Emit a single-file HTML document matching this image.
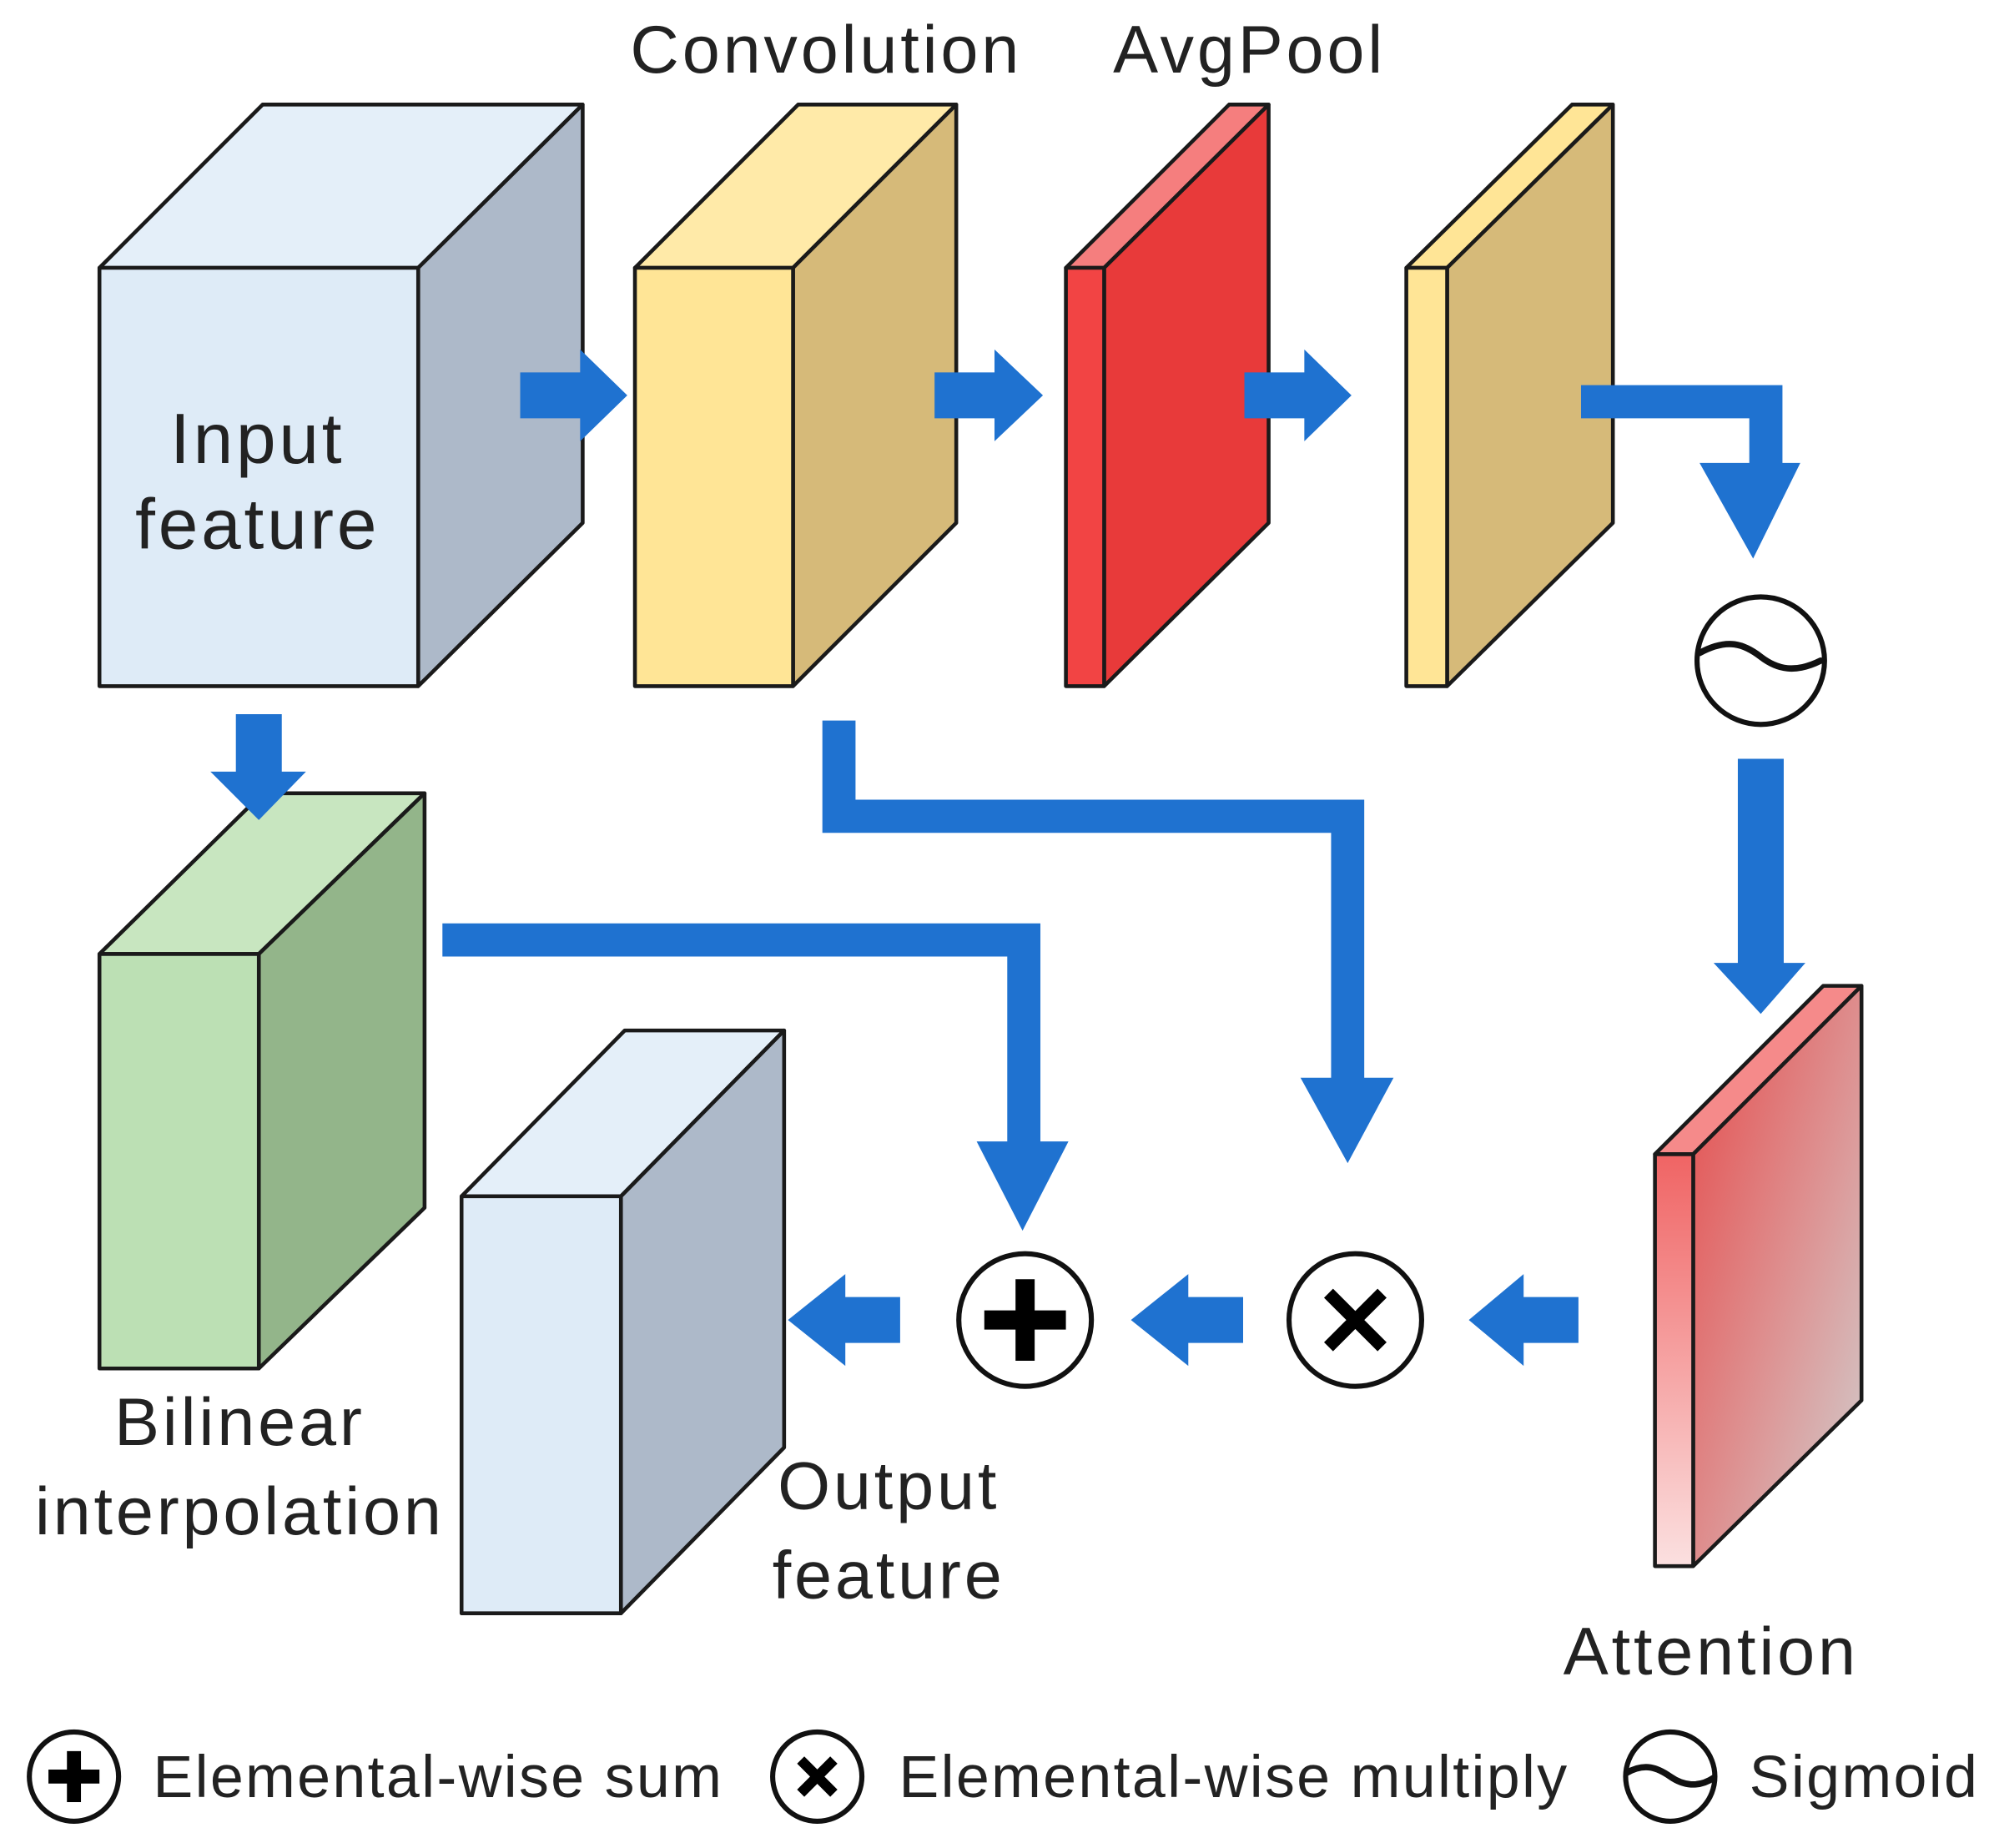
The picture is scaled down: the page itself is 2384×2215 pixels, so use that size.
<!DOCTYPE html>
<html><head><meta charset="utf-8"><style>
html,body{margin:0;padding:0;background:#fff;}
svg{display:block;}
text{font-family:"Liberation Sans",Arial,sans-serif;fill:#222;}
</style></head><body>
<svg width="2384" height="2215" viewBox="0 0 1560 1449" preserveAspectRatio="none" xmlns="http://www.w3.org/2000/svg">
<defs>
<linearGradient id="att" x1="0" y1="0" x2="1" y2="1">
<stop offset="0" stop-color="#e64a4a"/><stop offset="0.6" stop-color="#dc9a9a"/><stop offset="1" stop-color="#d0d0d0"/>
</linearGradient>
<linearGradient id="attf" x1="0" y1="0" x2="0" y2="1">
<stop offset="0" stop-color="#f06464"/><stop offset="1" stop-color="#fbe0e0"/>
</linearGradient>
</defs>
<g stroke="#1a1a1a" stroke-width="3" stroke-linejoin="round">
<polygon points="78,210 206,82 457,82 328,210" fill="#e4eff9"/>
<polygon points="328,210 457,82 457,410 328,538" fill="#adb9c9"/>
<rect x="78" y="210" width="250" height="328" fill="#deebf7"/>
<polygon points="498,210 626,82 750,82 622,210" fill="#ffeaa8"/>
<polygon points="622,210 750,82 750,410 622,538" fill="#d6ba79"/>
<rect x="498" y="210" width="124" height="328" fill="#ffe596"/>
<polygon points="836,210 964,82 995,82 866,210" fill="#f57e7e"/>
<polygon points="866,210 995,82 995,410 866,538" fill="#e83a3a"/>
<rect x="836" y="210" width="30" height="328" fill="#f24444"/>
<polygon points="1103,210 1233,82 1265,82 1135,210" fill="#ffe596"/>
<polygon points="1135,210 1265,82 1265,410 1135,538" fill="#d6ba79"/>
<rect x="1103" y="210" width="32" height="328" fill="#ffe596"/>
<polygon points="78,748 206,622 333,622 203,748" fill="#c8e6c0"/>
<polygon points="203,748 333,622 333,947 203,1073" fill="#93b58a"/>
<rect x="78" y="748" width="125" height="325" fill="#bce0b4"/>
<polygon points="362,938 490,808 615,808 487,938" fill="#e4eff9"/>
<polygon points="487,938 615,808 615,1135 487,1265" fill="#adb9c9"/>
<rect x="362" y="938" width="125" height="327" fill="#deebf7"/>
<polygon points="1298,905 1430,773 1460,773 1328,905" fill="#f58a8a"/>
<polygon points="1328,905 1460,773 1460,1098 1328,1228" fill="url(#att)"/>
<rect x="1298" y="905" width="30" height="323" fill="url(#attf)"/>
</g>
<g fill="#1f72d0">
<polygon points="408,292 455,292 455,274 492,310 455,346 455,328 408,328"/>
<polygon points="733,292 780,292 780,274 818,310 780,346 780,328 733,328"/>
<polygon points="976,292 1023,292 1023,274 1060,310 1023,346 1023,328 976,328"/>
<polygon points="185,560 221,560 221,605 240,605 203,643 165,605 185,605"/>
<polygon points="1363,595 1399,595 1399,755 1416,755 1381,795 1344,755 1363,755"/>
<polygon points="1238,1017 1195,1017 1195,999 1152,1035 1195,1071 1195,1053 1238,1053"/>
<polygon points="975,1017 932,1017 932,999 887,1035 932,1071 932,1053 975,1053"/>
<polygon points="706,1017 663,1017 663,999 618,1035 663,1071 663,1053 706,1053"/>
<polygon points="1240,302 1398,302 1398,363 1412,363 1375,438 1333,363 1372,363 1372,328 1240,328"/>
<polygon points="645,565 671,565 671,627 1070,627 1070,845 1093,845 1057,912 1020,845 1044,845 1044,653 645,653"/>
<polygon points="347,724 816,724 816,895 838,895 802,965 766,895 790,895 790,750 347,750"/>
</g>
<g stroke="#111" stroke-width="4" fill="#fff">
<circle cx="1381" cy="518" r="50"/>
<circle cx="804" cy="1035" r="52"/>
<circle cx="1063" cy="1035" r="52"/>
<circle cx="58" cy="1393" r="35"/>
<circle cx="641" cy="1393" r="35"/>
<circle cx="1310" cy="1393" r="35"/>
</g>
<g fill="none" stroke="#111" stroke-width="5" stroke-linecap="round">
<path d="M1333,512 C1355,500 1368,505 1381,515 C1394,525 1408,528 1428,518"/>
<path d="M1276,1390 C1290,1382 1300,1386 1310,1393 C1320,1400 1332,1402 1344,1394"/>
</g>
<g stroke="#000" stroke-linecap="butt">
<path d="M804,1003 V1067 M772,1035 H836" stroke-width="15"/>
<path d="M58,1373 V1413 M38,1393 H78" stroke-width="11"/>
<path d="M1042,1014 L1084,1056 M1084,1014 L1042,1056" stroke-width="10"/>
<path d="M628,1380 L654,1406 M654,1380 L628,1406" stroke-width="8"/>
</g>
<g font-size="53" text-anchor="middle" letter-spacing="2.5">
<text x="202" y="363" font-size="56">Input</text>
<text x="202" y="430" font-size="56">feature</text>
<text x="648" y="57">Convolution</text>
<text x="980" y="57">AvgPool</text>
<text x="188" y="1133">Bilinear</text>
<text x="188" y="1203">interpolation</text>
<text x="697" y="1183">Output</text>
<text x="697" y="1253">feature</text>
<text x="1342" y="1313">Attention</text>
</g>
<g font-size="47" letter-spacing="1.5">
<text x="120" y="1409">Elemental-wise sum</text>
<text x="705" y="1409">Elemental-wise multiply</text>
<text x="1372" y="1409">Sigmoid</text>
</g>
</svg>
</body></html>
